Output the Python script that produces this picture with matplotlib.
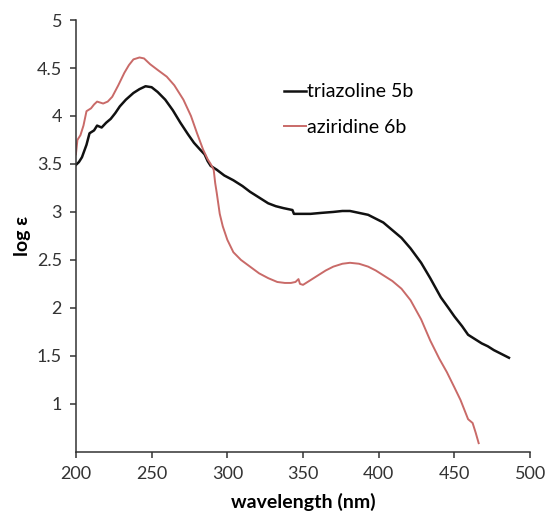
import numpy as np
import matplotlib
matplotlib.use('Agg')
import matplotlib.pyplot as plt

plt.rcParams['font.family'] = ['Lato', 'DejaVu Sans']

# triazoline 5b (black)
tri_wl = [200, 202, 204, 207, 209, 212, 214, 217, 220, 223, 226, 229, 233, 238, 242,
          246, 250, 254, 259, 264, 269, 274, 278, 282, 285, 287, 289, 293, 298, 304,
          310, 315, 321, 327, 332, 337, 340, 343, 344, 348, 355, 362, 370, 376, 381,
          387, 393, 398, 403, 409, 415, 421, 428, 434, 441, 446, 450, 455, 459, 463,
          468, 472, 476, 481, 486]
tri_eps = [3.49, 3.52, 3.57, 3.70, 3.82, 3.85, 3.90, 3.88, 3.93, 3.97, 4.03, 4.10, 4.17, 4.24, 4.28,
           4.31, 4.30, 4.25, 4.17, 4.06, 3.93, 3.81, 3.72, 3.65, 3.60, 3.53, 3.48, 3.44, 3.38, 3.33,
           3.27, 3.21, 3.15, 3.09, 3.06, 3.04, 3.03, 3.02, 2.98, 2.98, 2.98, 2.99, 3.00, 3.01, 3.01,
           2.99, 2.97, 2.93, 2.89, 2.81, 2.73, 2.62, 2.47, 2.31, 2.11, 2.00, 1.91, 1.81, 1.72, 1.68,
           1.63, 1.60, 1.56, 1.52, 1.48]

# aziridine 6b (red)
azi_wl = [200, 201, 203, 205, 207, 210, 212, 214, 216, 218, 221, 224, 228, 232, 235,
          238, 242, 245, 249, 254, 260, 265, 271, 276, 280, 284, 287, 289, 291, 292,
          293, 295, 297, 300, 304, 309, 315, 321, 327, 333, 338, 342, 345, 347, 348,
          350, 354, 360, 365, 370, 376, 381, 387, 393, 398, 403, 409, 415, 421, 428,
          434, 440, 445, 450, 454, 457, 459, 462, 464, 466]
azi_eps = [3.60, 3.75, 3.80, 3.90, 4.05, 4.08, 4.12, 4.15, 4.14, 4.13, 4.15, 4.20, 4.32, 4.45, 4.53,
           4.59, 4.61, 4.60, 4.54, 4.48, 4.41, 4.32, 4.17, 4.00, 3.82, 3.65, 3.55, 3.50, 3.44, 3.30,
           3.20, 2.98, 2.85, 2.71, 2.58, 2.50, 2.43, 2.36, 2.31, 2.27, 2.26, 2.26, 2.27, 2.30, 2.25,
           2.24, 2.28, 2.34, 2.39, 2.43, 2.46, 2.47, 2.46, 2.43, 2.39, 2.34, 2.28, 2.20, 2.08, 1.88,
           1.66, 1.47, 1.33, 1.17, 1.04, 0.92, 0.84, 0.80, 0.70, 0.59]

x_ticks = [200, 250, 300, 350, 400, 450, 500]
y_ticks = [1, 1.5, 2, 2.5, 3, 3.5, 4, 4.5, 5]
y_ticklabels = ['1', '1.5', '2', '2.5', '3', '3.5', '4', '4.5', '5']

fig = plt.figure(figsize=(5.46, 5.14), dpi=100)
ax = fig.add_axes([0.139, 0.121, 0.832, 0.840])

ax.plot(tri_wl, tri_eps, color='#111111', lw=1.8, label='triazoline 5b')
ax.plot(azi_wl, azi_eps, color='#c96a68', lw=1.4, label='aziridine 6b')

ax.set_xlim(200, 500)
ax.set_ylim(0.5, 5)
ax.set_xticks(x_ticks)
ax.set_yticks(y_ticks)
ax.set_yticklabels(y_ticklabels)
ax.spines['top'].set_visible(False)
ax.spines['right'].set_visible(False)
for s in ['left', 'bottom']:
    ax.spines[s].set_linewidth(1.1)
    ax.spines[s].set_color('#333333')
ax.tick_params(direction='out', length=4, width=1.1, colors='#333333',
               labelsize=13, labelcolor='#333333', pad=6)

ax.set_xlabel('wavelength (nm)', fontsize=14, fontweight='bold', labelpad=8)
ax.set_ylabel('log ε', fontsize=14, fontweight='bold', labelpad=4)

ax.legend(loc='upper left', bbox_to_anchor=(0.42, 0.894), frameon=False,
          fontsize=14, handlelength=1.1, handletextpad=0.05, labelspacing=0.95)

fig.savefig('out.png', dpi=100)
